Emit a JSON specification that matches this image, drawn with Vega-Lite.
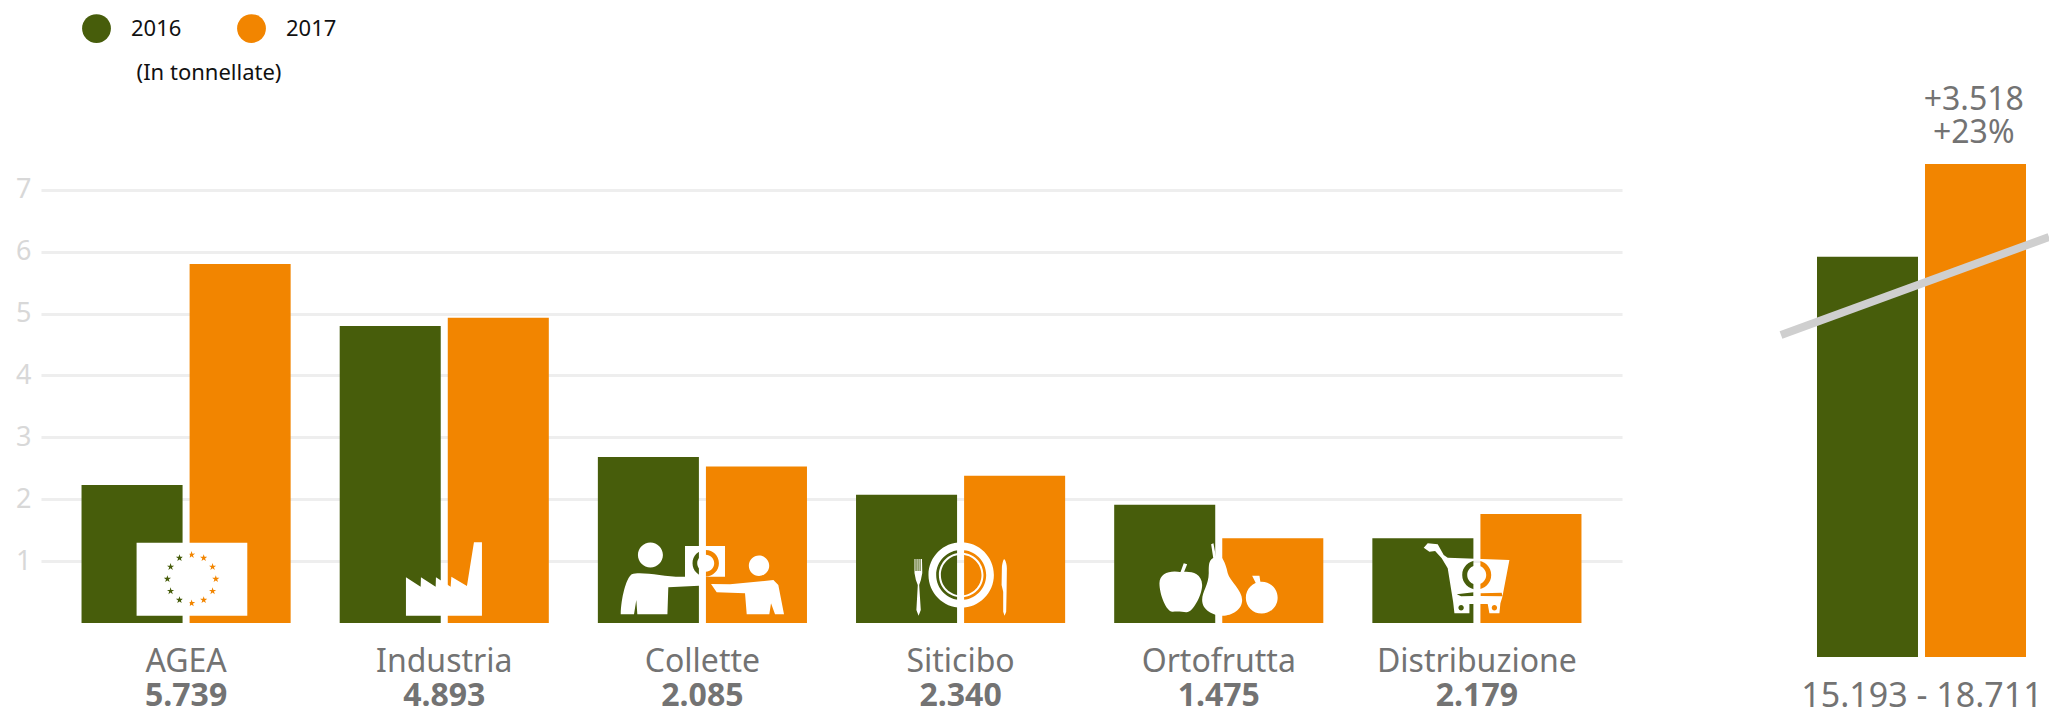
{
"$schema":"https://vega.github.io/schema/vega-lite/v6.json",
"background":"white",
"padding":{"left":15,"top":0,"right":0,"bottom":0},
"spacing":143,
"config":{"view":{"stroke":null},"font":"Noto Sans"},
"datasets":{
"barre":[
{"filiera":"AGEA","anno":"2016","tonnellate":2.23},{"filiera":"AGEA","anno":"2017","tonnellate":5.8},
{"filiera":"Industria","anno":"2016","tonnellate":4.8},{"filiera":"Industria","anno":"2017","tonnellate":4.93},
{"filiera":"Collette","anno":"2016","tonnellate":2.68},{"filiera":"Collette","anno":"2017","tonnellate":2.53},
{"filiera":"Siticibo","anno":"2016","tonnellate":2.07},{"filiera":"Siticibo","anno":"2017","tonnellate":2.38},
{"filiera":"Ortofrutta","anno":"2016","tonnellate":1.91},{"filiera":"Ortofrutta","anno":"2017","tonnellate":1.37},
{"filiera":"Distribuzione","anno":"2016","tonnellate":1.37},{"filiera":"Distribuzione","anno":"2017","tonnellate":1.76}],
"filiere":[
{"filiera":"AGEA","totale":"5.739"},{"filiera":"Industria","totale":"4.893"},{"filiera":"Collette","totale":"2.085"},
{"filiera":"Siticibo","totale":"2.340"},{"filiera":"Ortofrutta","totale":"1.475"},{"filiera":"Distribuzione","totale":"2.179"}],
"totali":[{"anno":"2016","totale":15193},{"anno":"2017","totale":18711,"variazione":"+3.518\n+23%"}],
"tendenza":[{"punto":"inizio","totale":12220},{"punto":"fine","totale":15940}]
},
"resolve":{"scale":{"color":"independent"},"legend":{"color":"independent"}},
"hconcat":[
{"width":1581,"height":623,
"encoding":{"x":{"field":"filiera","type":"nominal","sort":null,
"scale":{"domain":["AGEA","Industria","Collette","Siticibo","Ortofrutta","Distribuzione"],"paddingInner":0.19,"paddingOuter":0.157},
"axis":{"title":null,"domain":false,"ticks":false,"labelAngle":0,"labelFont":"Noto Sans","labelFontSize":32,"labelColor":"#737373","labelPadding":23,"labelLimit":400}}},
"layer":[
{"data":{"name":"barre"},"mark":{"type":"bar"},
"encoding":{
"xOffset":{"field":"anno","type":"nominal","scale":{"paddingInner":0.065,"paddingOuter":0}},
"y":{"field":"tonnellate","type":"quantitative","scale":{"domain":[0,10.065],"nice":false},
"axis":{"title":null,"values":[1,2,3,4,5,6,7],"format":"d","domain":false,"ticks":false,"grid":true,"gridColor":"#eeeeee","gridWidth":3,"labelFont":"Noto Sans","labelFontSize":27,"labelColor":"#d8d8d8","labelPadding":10,"labelBaseline":"middle"}},
"color":{"field":"anno","type":"nominal","scale":{"domain":["2016","2017"],"range":["#475d0b","#f28500"]},
"legend":{"orient":"none","legendX":41,"legendY":14,"direction":"horizontal","columns":2,"title":"(In tonnellate)","titleOrient":"bottom","titleAnchor":"middle","titleFont":"Noto Sans","titleFontSize":22,"titleFontWeight":"normal","titleColor":"#111111","titlePadding":20,"symbolType":"circle","symbolSize":830,"symbolStrokeWidth":0,"symbolOpacity":1,"labelFont":"Noto Sans","labelFontSize":22,"labelColor":"#111111","labelOffset":20,"columnPadding":55}}
}},
{"data":{"name":"filiere"},"mark":{"type":"point","filled":true,"opacity":1,"size":4,"fill":"#ffffff","strokeWidth":0},
"encoding":{
"y":{"datum":0},
"shape":{"field":"filiera","type":"nominal","legend":null,"scale":{"domain":["AGEA","Industria","Collette","Siticibo","Ortofrutta","Distribuzione"],"range":[
"M-49.5 -80.3 L61.2 -80.3 L61.2 -7.3 L-49.5 -7.3 Z M5.5 -72 l-0.85 2.63 -2.75 -0.03 2.22 1.65 -0.82 2.65 2.2 -1.65 2.2 1.65 -0.82 -2.65 2.22 -1.65 -2.75 0.03 Z M17.6 -68.8 l-0.85 2.63 -2.75 -0.03 2.22 1.65 -0.82 2.65 2.2 -1.65 2.2 1.65 -0.82 -2.65 2.22 -1.65 -2.75 0.03 Z M26.5 -59.9 l-0.85 2.63 -2.75 -0.03 2.22 1.65 -0.82 2.65 2.2 -1.65 2.2 1.65 -0.82 -2.65 2.22 -1.65 -2.75 0.03 Z M29.7 -47.8 l-0.85 2.63 -2.75 -0.03 2.22 1.65 -0.82 2.65 2.2 -1.65 2.2 1.65 -0.82 -2.65 2.22 -1.65 -2.75 0.03 Z M26.5 -35.7 l-0.85 2.63 -2.75 -0.03 2.22 1.65 -0.82 2.65 2.2 -1.65 2.2 1.65 -0.82 -2.65 2.22 -1.65 -2.75 0.03 Z M17.6 -26.8 l-0.85 2.63 -2.75 -0.03 2.22 1.65 -0.82 2.65 2.2 -1.65 2.2 1.65 -0.82 -2.65 2.22 -1.65 -2.75 0.03 Z M5.5 -23.6 l-0.85 2.63 -2.75 -0.03 2.22 1.65 -0.82 2.65 2.2 -1.65 2.2 1.65 -0.82 -2.65 2.22 -1.65 -2.75 0.03 Z M-6.6 -26.8 l-0.85 2.63 -2.75 -0.03 2.22 1.65 -0.82 2.65 2.2 -1.65 2.2 1.65 -0.82 -2.65 2.22 -1.65 -2.75 0.03 Z M-15.5 -35.7 l-0.85 2.63 -2.75 -0.03 2.22 1.65 -0.82 2.65 2.2 -1.65 2.2 1.65 -0.82 -2.65 2.22 -1.65 -2.75 0.03 Z M-18.7 -47.8 l-0.85 2.63 -2.75 -0.03 2.22 1.65 -0.82 2.65 2.2 -1.65 2.2 1.65 -0.82 -2.65 2.22 -1.65 -2.75 0.03 Z M-15.5 -59.9 l-0.85 2.63 -2.75 -0.03 2.22 1.65 -0.82 2.65 2.2 -1.65 2.2 1.65 -0.82 -2.65 2.22 -1.65 -2.75 0.03 Z M-6.6 -68.8 l-0.85 2.63 -2.75 -0.03 2.22 1.65 -0.82 2.65 2.2 -1.65 2.2 1.65 -0.82 -2.65 2.22 -1.65 -2.75 0.03 Z",
"M-38.3 -45.7 L-23.6 -36.3 L-23.3 -45.7 L-8.6 -36.3 L-8.3 -45.7 L6.4 -36.3 L7.1 -46.3 L22.7 -37 L29.7 -80.7 L37.7 -80.7 L37.7 -7.3 L-38.3 -7.3 Z",
"M-64.5 -68 A12.5 12.5 0 1 1 -39.5 -68 A12.5 12.5 0 1 1 -64.5 -68 Z M46.4 -57.3 A10.2 10.2 0 1 1 66.8 -57.3 A10.2 10.2 0 1 1 46.4 -57.3 Z M-81.7 -8.7 C-81.4 -24.7 -76.4 -44.7 -70.7 -48.7 C-60.7 -52.3 -35.7 -45.3 -17.4 -46.3 L-3.4 -47.3 L-3.4 -37.3 L-34.1 -35.7 L-35 -8.7 L-65.1 -8.7 L-66.1 -23 L-68.4 -8.7 Z M8.6 -39 L27.6 -38.7 L71 -43 L75.9 -38 L81.6 -8.7 L72.6 -8.7 L68.6 -19.7 L66.9 -8.7 L44.3 -8.7 L42.6 -29.7 L14.3 -30.7 Z M-17.4 -77 L22.6 -77 L22.6 -46.3 L-17.4 -46.3 Z M-9.9 -59.7 A13.2 13.2 0 1 0 16.5 -59.7 A13.2 13.2 0 1 0 -9.9 -59.7 Z M-5.2 -59.7 A8.5 8.5 0 1 1 11.8 -59.7 A8.5 8.5 0 1 1 -5.2 -59.7 Z",
"M-32.1 -48 A32.7 32.7 0 1 1 33.3 -48 A32.7 32.7 0 1 1 -32.1 -48 Z M-24.4 -48 A25 25 0 1 0 25.6 -48 A25 25 0 1 0 -24.4 -48 Z M-21.7 -48 A22.3 22.3 0 1 1 22.9 -48 A22.3 22.3 0 1 1 -21.7 -48 Z M-19.7 -48 A20.3 20.3 0 1 0 20.9 -48 A20.3 20.3 0 1 0 -19.7 -48 Z M-46.1 -64 L-45.1 -64 L-45.1 -52 L-44 -52 L-44 -64 L-43 -64 L-43 -52 L-42 -52 L-42 -64 L-41 -64 L-41 -52 L-40 -52 L-40 -64 L-38.6 -64 L-38.3 -50 L-39.7 -43 L-41.4 -38 L-39.8 -13 L-42 -7.3 L-44.2 -13 L-42.8 -38 L-44.7 -43 L-46.1 -50 Z M43.6 -64 C45.5 -62 46.3 -58 46.3 -54.7 L46 -31.3 L45.6 -11.3 L44 -7.3 L42.6 -11.3 L42.6 -31.3 L41 -38 L41.3 -55 C41.5 -59 42.5 -63 43.6 -64 Z",
"M-37.6 -50.7 C-32 -52 -17 -52 -16.6 -38 C-16.6 -28 -26 -10 -32.6 -10.7 C-36 -11 -40 -12 -46 -11.3 C-52 -10.5 -59.3 -28 -59.3 -39.7 C-59.3 -50 -48 -53 -37.6 -50.7 Z M-38.3 -50.7 L-35 -59.7 L-31.6 -58.7 L-35 -50.3 Z M-6 -64.7 C-3 -67 2 -67 2.4 -66.3 C6 -62 8 -55 9 -49.7 C11 -42 23.4 -33 23.4 -23 C23.4 -13 13 -7.3 4 -7.3 C-6 -7.3 -16.6 -13 -16.6 -23 C-16.6 -32 -10 -38 -10 -50 C-10 -58 -10 -62 -6 -64.7 Z M-7.6 -78.7 L-5.3 -79.7 L-2.6 -65 L-5.5 -65 Z M27.1 -25.3 A15.9 15.9 0 1 1 58.9 -25.3 A15.9 15.9 0 1 1 27.1 -25.3 Z M33.4 -47.3 L40.7 -47.3 L41.7 -40.7 L38 -38 Z",
"M-53.2 -75.3 L-49.2 -79.7 L-39.2 -78.7 L-33.2 -68 L-29.2 -65.3 L32.5 -63 L25.5 -26.3 L23.5 -19.7 L22.5 -9.7 L12.5 -9.7 L10.8 -19 L-7.5 -19 L-7.5 -9.7 L-22.5 -9.7 L-23.8 -21.3 L-29.2 -54.7 L-35.2 -64.7 L-41.8 -72 L-47.5 -71.3 Z M-3.2 -30.7 L-20.2 -28.7 L-15.8 -26.7 L-3.2 -27 Z M24.8 -30.3 L3.5 -29.7 L3.5 -27 L25.5 -26.7 Z M-14.7 -48 A14.5 14.5 0 1 0 14.3 -48 A14.5 14.5 0 1 0 -14.7 -48 Z M-9.7 -48 A9.5 9.5 0 1 1 9.3 -48 A9.5 9.5 0 1 1 -9.7 -48 Z M-18.5 -15.3 A2.7 2.7 0 1 0 -13.1 -15.3 A2.7 2.7 0 1 0 -18.5 -15.3 Z M14.8 -15.3 A2.7 2.7 0 1 0 20.2 -15.3 A2.7 2.7 0 1 0 14.8 -15.3 Z"
]}}
}},
{"data":{"name":"filiere"},"mark":{"type":"text","font":"Noto Sans","fontSize":32,"fontWeight":"bold","color":"#737373","align":"center","baseline":"alphabetic","dy":83},
"encoding":{"y":{"datum":0},"text":{"field":"totale","type":"nominal"}}}
]},
{"width":268,"height":657,
"resolve":{"scale":{"x":"independent"},"axis":{"x":"independent"}},
"layer":[
{"data":{"name":"totali"},"mark":{"type":"bar"},
"encoding":{
"x":{"field":"anno","type":"nominal","scale":{"domain":["2016","2017"],"range":[36,245],"paddingInner":0.065,"paddingOuter":0},
"axis":{"title":"15.193 - 18.711","labels":false,"ticks":false,"domain":false,"titleFont":"Noto Sans","titleFontSize":34,"titleFontWeight":"normal","titleColor":"#737373","titlePadding":22}},
"y":{"field":"totale","type":"quantitative","scale":{"domain":[0,24935],"nice":false},"axis":null},
"color":{"field":"anno","type":"nominal","scale":{"domain":["2016","2017"],"range":["#475d0b","#f28500"]},"legend":null}
}},
{"data":{"name":"tendenza"},"mark":{"type":"line","color":"#cfcfcf","strokeWidth":8},
"encoding":{
"x":{"field":"punto","type":"ordinal","sort":null,"scale":{"type":"point","domain":["inizio","fine"],"padding":0},"axis":null},
"y":{"field":"totale","type":"quantitative"}
}},
{"data":{"name":"totali"},"transform":[{"filter":"datum.anno === '2017'"}],"mark":{"type":"text","font":"Noto Sans","fontSize":32,"color":"#737373","align":"center","baseline":"bottom","lineBreak":"\n","lineHeight":33,"dy":-47},
"encoding":{
"x":{"field":"anno","type":"nominal","axis":null,"scale":{"domain":["2016","2017"],"range":[36,245],"paddingInner":0.065,"paddingOuter":0}},
"y":{"field":"totale","type":"quantitative"},
"text":{"field":"variazione","type":"nominal"}
}}
]}
]
}
